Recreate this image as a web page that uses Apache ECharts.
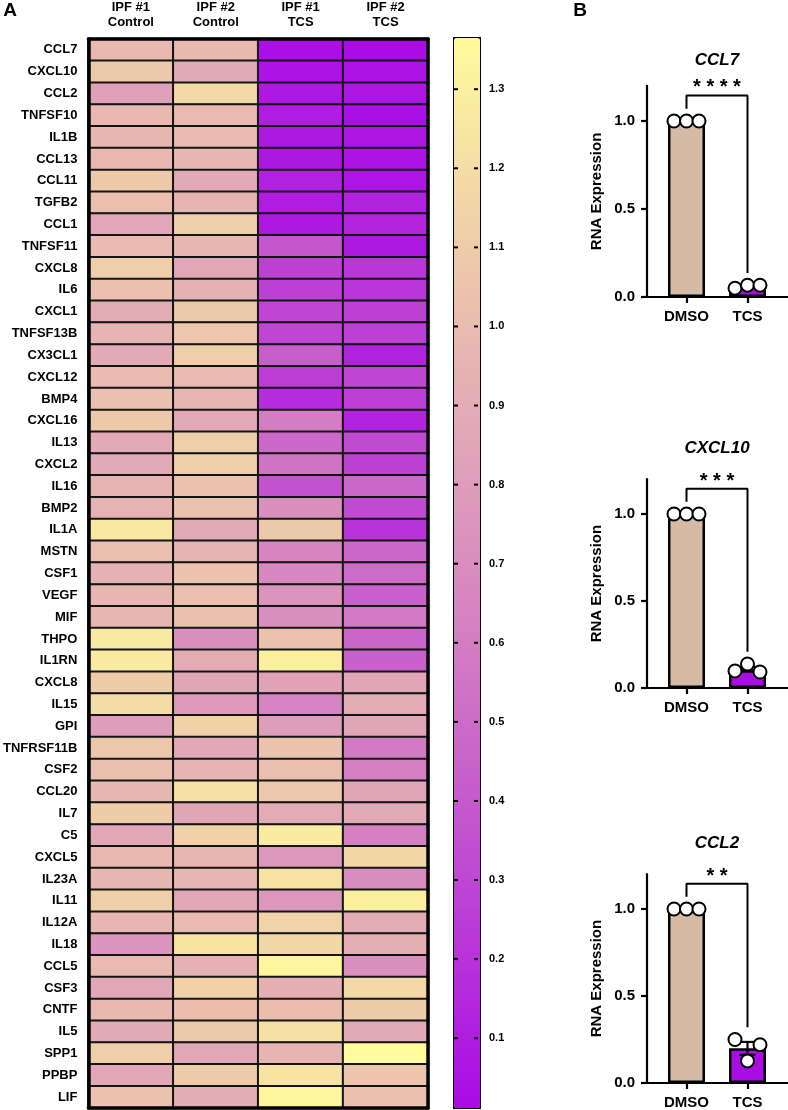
<!DOCTYPE html>
<html>
<head>
<meta charset="utf-8">
<title>Cytokine heatmap and RNA expression</title>
<script src="https://cdn.jsdelivr.net/npm/echarts@6/dist/echarts.min.js"></script>
<style>
  html, body { margin: 0; padding: 0; background: #fff; }
  #chart { width: 788px; height: 1110px; }
</style>
</head>
<body>
<div id="chart"></div>
<script>
// ---- panel A: heatmap rows (top to bottom) and columns ----
var genes = ['CCL7', 'CXCL10', 'CCL2', 'TNFSF10', 'IL1B', 'CCL13', 'CCL11', 'TGFB2', 'CCL1', 'TNFSF11',
  'CXCL8', 'IL6', 'CXCL1', 'TNFSF13B', 'CX3CL1', 'CXCL12', 'BMP4', 'CXCL16', 'IL13', 'CXCL2',
  'IL16', 'BMP2', 'IL1A', 'MSTN', 'CSF1', 'VEGF', 'MIF', 'THPO', 'IL1RN', 'CXCL8',
  'IL15', 'GPI', 'TNFRSF11B', 'CSF2', 'CCL20', 'IL7', 'C5', 'CXCL5', 'IL23A', 'IL11',
  'IL12A', 'IL18', 'CCL5', 'CSF3', 'CNTF', 'IL5', 'SPP1', 'PPBP', 'LIF'];
var samples = ['IPF #1\nControl', 'IPF #2\nControl', 'IPF #1\nTCS', 'IPF #2\nTCS'];

var ipf1Control = [0.98, 1.08, 0.82, 0.98, 0.97, 0.98, 1.08, 1.02, 0.86, 1.00,
  1.12, 1.03, 0.90, 0.95, 0.88, 0.99, 1.03, 1.08, 0.88, 0.88,
  0.94, 0.94, 1.26, 1.02, 0.93, 0.96, 0.96, 1.27, 1.27, 1.10,
  1.20, 0.80, 1.07, 1.02, 0.97, 1.10, 0.87, 0.98, 0.97, 1.12,
  0.96, 0.74, 1.00, 0.86, 0.98, 0.88, 1.12, 0.87, 1.04];
var ipf2Control = [0.98, 0.88, 1.18, 0.99, 0.99, 0.97, 0.88, 0.95, 1.12, 0.97,
  0.86, 0.93, 1.08, 1.07, 1.12, 0.99, 0.96, 0.88, 1.12, 1.12,
  1.04, 1.04, 0.88, 0.95, 1.05, 1.02, 1.03, 0.72, 0.90, 0.85,
  0.78, 1.13, 0.87, 0.95, 1.22, 0.85, 1.13, 0.96, 0.97, 0.86,
  1.00, 1.24, 0.93, 1.13, 1.01, 1.08, 0.86, 1.10, 0.90];
var ipf1Tcs = [0.03, 0.05, 0.08, 0.10, 0.08, 0.07, 0.12, 0.10, 0.08, 0.38,
  0.28, 0.26, 0.30, 0.30, 0.42, 0.25, 0.18, 0.60, 0.48, 0.55,
  0.36, 0.72, 1.08, 0.65, 0.67, 0.74, 0.72, 1.04, 1.30, 0.84,
  0.64, 0.80, 1.05, 1.02, 1.07, 0.90, 1.28, 0.76, 1.23, 0.76,
  1.14, 1.17, 1.34, 0.92, 1.01, 1.22, 0.95, 1.24, 1.34];
var ipf2Tcs = [0.02, 0.05, 0.06, 0.03, 0.06, 0.05, 0.06, 0.12, 0.13, 0.08,
  0.22, 0.22, 0.28, 0.26, 0.12, 0.30, 0.26, 0.12, 0.32, 0.28,
  0.48, 0.32, 0.20, 0.48, 0.50, 0.44, 0.58, 0.46, 0.44, 0.85,
  0.90, 0.85, 0.58, 0.62, 0.85, 0.88, 0.62, 1.17, 0.70, 1.30,
  0.90, 0.92, 0.72, 1.18, 1.10, 0.88, 1.36, 1.06, 1.03];

var scaleMin = 0.013;
var scaleMax = 1.366;
var scaleTicks = [0.1, 0.2, 0.3, 0.4, 0.5, 0.6, 0.7, 0.8, 0.9, 1.0, 1.1, 1.2, 1.3];

// ---- panel B: qPCR bars ----
var barGroups = ['DMSO', 'TCS'];
var ccl7Dmso = [1, 1, 1];
var ccl7Tcs = [0.05, 0.067, 0.067];
var ccl7Mean = [1, 0.06];
var ccl7Sem = [0, 0.006];
var cxcl10Dmso = [1, 1, 1];
var cxcl10Tcs = [0.098, 0.138, 0.092];
var cxcl10Mean = [1, 0.108];
var cxcl10Sem = [0, 0.014];
var ccl2Dmso = [1, 1, 1];
var ccl2Tcs = [0.25, 0.127, 0.22];
var ccl2Mean = [1, 0.199];
var ccl2Sem = [0, 0.037];
var yTicks = [0, 0.5, 1.0];

var FONT = '"Liberation Sans", Arial, sans-serif';
var heatCols = [ipf1Control, ipf2Control, ipf1Tcs, ipf2Tcs];
var heatData = [];
heatCols.forEach(function (col, c) {
  col.forEach(function (v, r) { heatData.push([c, r, v]); });
});

var panels = [
  { gene: 'CCL7', stars: '* * * *', dmso: ccl7Dmso, tcs: ccl7Tcs, mean: ccl7Mean, sem: ccl7Sem,
    grid: { top: 85.8, height: 211.2 }, titleY: 60, starsY: 82 },
  { gene: 'CXCL10', stars: '* * *', dmso: cxcl10Dmso, tcs: cxcl10Tcs, mean: cxcl10Mean, sem: cxcl10Sem,
    grid: { top: 479.2, height: 208.8 }, titleY: 448, starsY: 476 },
  { gene: 'CCL2', stars: '* *', dmso: ccl2Dmso, tcs: ccl2Tcs, mean: ccl2Mean, sem: ccl2Sem,
    grid: { top: 874.2, height: 208.8 }, titleY: 843, starsY: 871 }
];
var barColors = ['#d5bba5', '#a90de3'];
var jitter = [-12.5, 0, 12.5];
var bracketTop = 1.145;
var bracketGap = 0.07;

var grids = [{ left: 85, top: 37, width: 343, height: 1071 }];
var xAxes = [
  { gridIndex: 0, type: 'category', data: samples, position: 'top', z: 10,
    axisLine: { lineStyle: { color: '#000', width: 3.5 } },
    axisTick: { alignWithLabel: true, length: 7, lineStyle: { color: '#000', width: 2.5 } },
    axisLabel: { margin: 9, color: '#000', fontFamily: FONT, fontSize: 13, fontWeight: 'bold', lineHeight: 15 } },
  { gridIndex: 0, type: 'category', data: samples, position: 'bottom', z: 10,
    axisLine: { lineStyle: { color: '#000', width: 3.5 } },
    axisTick: { show: false }, axisLabel: { show: false } }
];
var yAxes = [
  { gridIndex: 0, type: 'category', data: genes, inverse: true, position: 'left', z: 10,
    axisLine: { lineStyle: { color: '#000', width: 3.5 } },
    axisTick: { alignWithLabel: true, length: 7, lineStyle: { color: '#000', width: 2.5 } },
    axisLabel: { interval: 0, margin: 11, color: '#000', fontFamily: FONT, fontSize: 13, fontWeight: 'bold' } },
  { gridIndex: 0, type: 'category', data: genes, inverse: true, position: 'right', z: 10,
    axisLine: { lineStyle: { color: '#000', width: 3.5 } },
    axisTick: { show: false }, axisLabel: { show: false } }
];
var series = [{
  type: 'heatmap', xAxisIndex: 0, yAxisIndex: 0, data: heatData,
  itemStyle: { borderColor: '#141414', borderWidth: 2 },
  emphasis: { disabled: true }
}];
var graphics = [
  { type: 'text', x: 10, y: 11, style: { text: 'A', font: 'bold 19px ' + FONT, fill: '#000', align: 'center', verticalAlign: 'middle' } },
  { type: 'text', x: 580, y: 11, style: { text: 'B', font: 'bold 19px ' + FONT, fill: '#000', align: 'center', verticalAlign: 'middle' } }
];

panels.forEach(function (p, i) {
  var g = i + 1;      // grid index
  var ax = i + 2;     // axis index (0 and 1 belong to the heatmap)
  grids.push({ left: 647, top: p.grid.top, width: 141, height: p.grid.height });
  xAxes.push({
    gridIndex: g, type: 'value', min: -0.6475, max: 1.664,
    splitLine: { show: false },
    axisLine: { onZero: false, lineStyle: { color: '#000', width: 2.2 } },
    axisTick: { customValues: [0, 1], length: 6, lineStyle: { color: '#000', width: 2.2 } },
    axisLabel: { customValues: [0, 1], margin: 12, color: '#000', fontFamily: FONT, fontSize: 15, fontWeight: 'bold',
      formatter: function (v) { return barGroups[Math.round(v)]; } }
  });
  yAxes.push({
    gridIndex: g, type: 'value', min: 0, max: 1.2,
    name: 'RNA Expression', nameLocation: 'middle', nameGap: 43,
    nameTextStyle: { color: '#000', fontFamily: FONT, fontSize: 15, fontWeight: 'bold' },
    splitLine: { show: false },
    axisLine: { show: true, onZero: false, lineStyle: { color: '#000', width: 2.2 } },
    axisTick: { show: true, customValues: yTicks, length: 6, lineStyle: { color: '#000', width: 2.2 } },
    axisLabel: { customValues: yTicks, margin: 12, color: '#000', fontFamily: FONT, fontSize: 15, fontWeight: 'bold',
      formatter: function (v) { return v.toFixed(1); } }
  });
  series.push({
    type: 'bar', xAxisIndex: ax, yAxisIndex: ax, barWidth: 37, z: 2,
    data: p.mean.map(function (m, k) {
      return { value: [k, m], itemStyle: { color: barColors[k] } };
    }),
    itemStyle: { borderColor: '#000', borderWidth: 2.5 }
  });
  var errData = [];
  p.sem.forEach(function (s, k) {
    if (s > 0) errData.push([k, p.mean[k] - s, p.mean[k] + s]);
  });
  series.push({
    type: 'custom', xAxisIndex: ax, yAxisIndex: ax, z: 3,
    encode: { x: 0, y: [1, 2] }, data: errData,
    renderItem: function (params, api) {
      var x = api.value(0);
      var lo = api.coord([x, api.value(1)]);
      var hi = api.coord([x, api.value(2)]);
      var st = { stroke: '#000', lineWidth: 2.2 };
      return { type: 'group', children: [
        { type: 'line', shape: { x1: hi[0], y1: hi[1], x2: lo[0], y2: lo[1] }, style: st },
        { type: 'line', shape: { x1: hi[0] - 8, y1: hi[1], x2: hi[0] + 8, y2: hi[1] }, style: st },
        { type: 'line', shape: { x1: lo[0] - 8, y1: lo[1], x2: lo[0] + 8, y2: lo[1] }, style: st }
      ] };
    }
  });
  var leftEnd = Math.max.apply(null, p.dmso) + bracketGap;
  var rightEnd = Math.max.apply(null, p.tcs) + bracketGap;
  series.push({
    type: 'line', xAxisIndex: ax, yAxisIndex: ax, z: 3, symbol: 'none',
    lineStyle: { color: '#000', width: 2 },
    data: [[0, leftEnd], [0, bracketTop], [1, bracketTop], [1, rightEnd]]
  });
  var pts = [];
  [p.dmso, p.tcs].forEach(function (arr, k) {
    arr.forEach(function (v, j) {
      pts.push({ value: [k, v], symbolOffset: [jitter[j], 0] });
    });
  });
  series.push({
    type: 'scatter', xAxisIndex: ax, yAxisIndex: ax, z: 4, symbol: 'circle', symbolSize: 13,
    itemStyle: { color: '#fff', borderColor: '#000', borderWidth: 2, opacity: 1 },
    data: pts
  });
  graphics.push({ type: 'text', x: 717, y: p.titleY,
    style: { text: p.gene, font: 'italic bold 17px ' + FONT, fill: '#000', align: 'center', verticalAlign: 'middle' } });
  graphics.push({ type: 'text', x: 717, y: p.starsY + 5,
    style: { text: p.stars, font: 'bold 20px ' + FONT, fill: '#000', align: 'center', verticalAlign: 'middle' } });
});

// colorbar: labels from an axis, small ticks on both inner edges of the bar
grids.push({ left: 453, top: 37, width: 26, height: 1070 });
xAxes.push({ gridIndex: 4, type: 'value', min: 0, max: 1, show: false });
yAxes.push({
  gridIndex: 4, type: 'value', min: scaleMin, max: scaleMax, position: 'right', z: 20,
  splitLine: { show: false }, axisLine: { show: false }, axisTick: { show: false },
  axisLabel: { customValues: scaleTicks, margin: 10, color: '#000', fontFamily: FONT, fontSize: 11, fontWeight: 'bold',
    formatter: function (v) { return v.toFixed(1); } }
});
series.push({
  type: 'custom', xAxisIndex: 5, yAxisIndex: 5, z: 30, silent: true,
  data: scaleTicks.map(function (t) { return [0, t]; }),
  renderItem: function (params, api) {
    var cs = params.coordSys;
    var y = api.coord([0, api.value(1)])[1];
    var st = { stroke: '#000', lineWidth: 2 };
    return { type: 'group', children: [
      { type: 'line', shape: { x1: cs.x + 1, y1: y, x2: cs.x + 5, y2: y }, style: st },
      { type: 'line', shape: { x1: cs.x + cs.width - 5, y1: y, x2: cs.x + cs.width - 1, y2: y }, style: st }
    ] };
  }
});

var chart = echarts.init(document.getElementById('chart'));
chart.setOption({
  animation: false,
  backgroundColor: '#fff',
  grid: grids,
  xAxis: xAxes,
  yAxis: yAxes,
  visualMap: {
    type: 'continuous', seriesIndex: 0, min: scaleMin, max: scaleMax,
    calculable: false, hoverLink: false, z: 1,
    left: 453, top: 37, itemWidth: 26, itemHeight: 1070, padding: 0,
    borderColor: '#000', borderWidth: 2,
    inRange: { color: ['#a90be6', '#b834d9', '#c55acd', '#d37cc3', '#dd9bbb', '#e8b8b1', '#f2d8a6', '#fffb9c'] }
  },
  graphic: graphics,
  series: series
});
</script>
</body>
</html>
